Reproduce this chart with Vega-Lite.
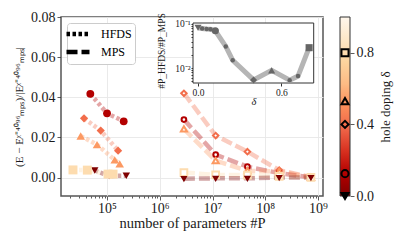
{
  "$schema": "https://vega.github.io/schema/vega-lite/v6.json",
  "padding": {"left": 12, "top": 9, "right": 2, "bottom": 2},
  "background": "white",
  "bounds": "flush",
  "spacing": 17,
  "config": {
    "font": "Liberation Serif",
    "view": {"stroke": null},
    "axis": {
      "labelFont": "Liberation Serif", "titleFont": "Liberation Serif",
      "labelFontSize": 14, "titleFontSize": 14.5, "titleFontWeight": "normal",
      "labelColor": "#1a1a1a", "titleColor": "#1a1a1a", "tickColor": "#333",
      "gridColor": "#e8e8e8", "gridWidth": 0.9, "domain": false
    },
    "legend": {"labelFont": "Liberation Serif"}
  },
  "datasets": {
    "main": [
      {"method": "HFDS", "delta": 0, "P": 58500, "err": 0.0035},
      {"method": "HFDS", "delta": 0, "P": 110000, "err": 0.0008},
      {"method": "HFDS", "delta": 0, "P": 232000, "err": 0.0009},
      {"method": "HFDS", "delta": 0.125, "P": 48200, "err": 0.0417},
      {"method": "HFDS", "delta": 0.125, "P": 100000, "err": 0.032},
      {"method": "HFDS", "delta": 0.125, "P": 207000, "err": 0.028},
      {"method": "HFDS", "delta": 0.4, "P": 36600, "err": 0.0295},
      {"method": "HFDS", "delta": 0.4, "P": 75900, "err": 0.0234},
      {"method": "HFDS", "delta": 0.4, "P": 162000, "err": 0.0134},
      {"method": "HFDS", "delta": 0.53, "P": 31700, "err": 0.0207},
      {"method": "HFDS", "delta": 0.53, "P": 64600, "err": 0.0164},
      {"method": "HFDS", "delta": 0.53, "P": 140000, "err": 0.0088},
      {"method": "HFDS", "delta": 0.53, "P": 174000, "err": 0.0068},
      {"method": "HFDS", "delta": 0.8, "P": 22600, "err": 0.0038},
      {"method": "HFDS", "delta": 0.8, "P": 42300, "err": 0.0037},
      {"method": "HFDS", "delta": 0.8, "P": 104500, "err": 0.0017},
      {"method": "HFDS", "delta": 0.8, "P": 130000, "err": 0.0017},
      {"method": "MPS", "delta": 0.4, "P": 2870000, "err": 0.042},
      {"method": "MPS", "delta": 0.4, "P": 11480000, "err": 0.0209},
      {"method": "MPS", "delta": 0.4, "P": 45900000, "err": 0.0129},
      {"method": "MPS", "delta": 0.4, "P": 183700000, "err": 0.0037},
      {"method": "MPS", "delta": 0.4, "P": 735000000, "err": 0.0002},
      {"method": "MPS", "delta": 0.125, "P": 2870000, "err": 0.0289},
      {"method": "MPS", "delta": 0.125, "P": 11480000, "err": 0.0114},
      {"method": "MPS", "delta": 0.125, "P": 45900000, "err": 0.0054},
      {"method": "MPS", "delta": 0.125, "P": 183700000, "err": 0.0022},
      {"method": "MPS", "delta": 0.125, "P": 735000000, "err": 0.0001},
      {"method": "MPS", "delta": 0.53, "P": 2870000, "err": 0.0242},
      {"method": "MPS", "delta": 0.53, "P": 11480000, "err": 0.0084},
      {"method": "MPS", "delta": 0.53, "P": 45900000, "err": 0.0034},
      {"method": "MPS", "delta": 0.53, "P": 183700000, "err": 0.003},
      {"method": "MPS", "delta": 0.53, "P": 735000000, "err": 0.0001},
      {"method": "MPS", "delta": 0.8, "P": 2870000, "err": 0.0025},
      {"method": "MPS", "delta": 0.8, "P": 11480000, "err": 0.0013},
      {"method": "MPS", "delta": 0.8, "P": 45900000, "err": 0.0012},
      {"method": "MPS", "delta": 0.8, "P": 183700000, "err": 0.0006},
      {"method": "MPS", "delta": 0.8, "P": 735000000, "err": 0.0001},
      {"method": "MPS", "delta": 0, "P": 2870000, "err": -0.0006},
      {"method": "MPS", "delta": 0, "P": 11480000, "err": -0.0004},
      {"method": "MPS", "delta": 0, "P": 45900000, "err": -0.0004},
      {"method": "MPS", "delta": 0, "P": 183700000, "err": 0.0},
      {"method": "MPS", "delta": 0, "P": 735000000, "err": 0.0}
    ],
    "inset": [
      {"delta": 0, "ratio": 0.082},
      {"delta": 0.03, "ratio": 0.079},
      {"delta": 0.0625, "ratio": 0.077},
      {"delta": 0.09, "ratio": 0.076},
      {"delta": 0.125, "ratio": 0.07},
      {"delta": 0.2, "ratio": 0.031},
      {"delta": 0.25, "ratio": 0.015},
      {"delta": 0.4, "ratio": 0.0054},
      {"delta": 0.53, "ratio": 0.0089},
      {"delta": 0.66, "ratio": 0.0053},
      {"delta": 0.72, "ratio": 0.0066},
      {"delta": 0.8, "ratio": 0.029}
    ],
    "insetbox": [{"x0": -0.036, "x1": 0.833, "y0": 0.0046, "y1": 0.105}],
    "cbar": [{"lo": 0, "hi": 1}],
    "cbmarks": [{"delta": 0}, {"delta": 0.125}, {"delta": 0.4}, {"delta": 0.53}, {"delta": 0.8}]
  },
  "hconcat": [
    {
      "width": 262,
      "height": 179,
      "view": {"stroke": "#555", "strokeWidth": 1.5},
      "resolve": {
        "scale": {"x": "independent", "y": "independent"},
        "axis": {"x": "independent", "y": "independent"}
      },
      "layer": [
        {
          "data": {"name": "main"},
          "resolve": {"scale": {"size": "independent"}},
          "layer": [
            {
              "mark": {"type": "line", "strokeWidth": 4.5, "opacity": 0.35},
              "encoding": {
                "x": {
                  "field": "P", "type": "quantitative",
                  "scale": {"type": "log", "domain": [13400, 1245000000], "nice": false},
                  "title": "number of parameters #P",
                  "axis": {
                    "orient": "bottom",
                    "values": [20000, 30000, 40000, 50000, 60000, 70000, 80000, 90000,
                      100000, 200000, 300000, 400000, 500000, 600000, 700000, 800000, 900000,
                      1000000, 2000000, 3000000, 4000000, 5000000, 6000000, 7000000, 8000000, 9000000,
                      10000000, 20000000, 30000000, 40000000, 50000000, 60000000, 70000000, 80000000, 90000000,
                      100000000, 200000000, 300000000, 400000000, 500000000, 600000000, 700000000, 800000000, 900000000,
                      1000000000],
                    "labelExpr": "abs(log(datum.value)/LN10 - round(log(datum.value)/LN10)) < 0.001 ? '10' + ['⁰','¹','²','³','⁴','⁵','⁶','⁷','⁸','⁹'][round(log(datum.value)/LN10)] : ''",
                    "labelOverlap": false,
                    "labelFlush": false,
                    "tickSize": {"condition": {"test": "abs(log(datum.value)/LN10 - round(log(datum.value)/LN10)) < 0.001", "value": 4}, "value": 2},
                    "gridOpacity": {"condition": {"test": "abs(log(datum.value)/LN10 - round(log(datum.value)/LN10)) < 0.001", "value": 1}, "value": 0},
                    "tickWidth": 0.8,
                    "labelPadding": 1,
                    "titlePadding": 1
                  }
                },
                "y": {
                  "field": "err", "type": "quantitative",
                  "scale": {"domain": [-0.0092, 0.08], "nice": false, "zero": false},
                  "title": "(E − Eᵡ⁼⁴⁰⁹⁶ₘₚₛ)/|Eᵡ⁼⁴⁰⁹⁶ₘₚₛ|",
                  "axis": {"orient": "left", "values": [0, 0.02, 0.04, 0.06, 0.08], "format": ".2f", "tickSize": 4, "tickWidth": 0.8, "labelPadding": 2, "titlePadding": 6, "titleFontSize": 11}
                },
                "color": {
                  "field": "delta", "type": "quantitative",
                  "scale": {"domain": [0, 0.125, 0.25, 0.375, 0.5, 0.625, 0.75, 0.875, 1],
                    "range": ["#7f0000", "#b30000", "#d7301f", "#ef6548", "#fc8d59", "#fdbb84", "#fdd49e", "#fee8c8", "#fff7ec"]},
                  "legend": null
                },
                "detail": {"field": "delta"},
                "strokeDash": {
                  "field": "method", "type": "nominal",
                  "scale": {"domain": ["HFDS", "MPS"], "range": [[3.5, 2.5], [11, 4]]},
                  "legend": {
                    "title": null, "orient": "top-left", "offset": 6,
                    "symbolType": "M-2,0H2", "symbolStrokeColor": "black", "symbolStrokeWidth": 4.5,
                    "symbolSize": 132, "symbolOpacity": 1, "labelFontSize": 12, "labelOffset": 15,
                    "strokeColor": "#cccccc", "fillColor": "white", "cornerRadius": 3, "padding": 3,
                    "rowPadding": 0
                  }
                }
              }
            },
            {
              "transform": [{"filter": "datum.method == 'HFDS'"}],
              "mark": {"type": "point", "filled": true, "opacity": 1},
              "encoding": {
                "x": {"field": "P", "type": "quantitative"},
                "y": {"field": "err", "type": "quantitative"},
                "color": {"field": "delta", "type": "quantitative", "legend": null},
                "shape": {
                  "field": "delta", "type": "nominal",
                  "scale": {"domain": [0, 0.125, 0.4, 0.53, 0.8], "range": ["triangle-down", "circle", "diamond", "triangle-up", "square"]},
                  "legend": null
                },
                "size": {
                  "field": "delta", "type": "ordinal",
                  "scale": {"domain": [0, 0.125, 0.4, 0.53, 0.8], "range": [55, 80, 100, 95, 65]},
                  "legend": null
                }
              }
            },
            {
              "transform": [{"filter": "datum.method == 'MPS'"}],
              "mark": {"type": "point", "filled": false, "fill": "white", "strokeWidth": 2, "opacity": 1},
              "encoding": {
                "x": {"field": "P", "type": "quantitative"},
                "y": {"field": "err", "type": "quantitative"},
                "color": {"field": "delta", "type": "quantitative", "legend": null},
                "shape": {"field": "delta", "type": "nominal", "legend": null},
                "size": {
                  "field": "delta", "type": "ordinal",
                  "scale": {"domain": [0, 0.125, 0.4, 0.53, 0.8], "range": [14, 45, 80, 50, 40]},
                  "legend": null
                }
              }
            }
          ]
        },
        {
          "layer": [
            {
              "data": {"name": "insetbox"},
              "mark": {"type": "rect", "fill": "white", "stroke": "#333", "strokeWidth": 1},
              "encoding": {
                "x": {
                  "field": "x0", "type": "quantitative",
                  "scale": {"domain": [-0.036, 0.833], "range": [132, 252.7], "nice": false, "zero": false},
                  "title": "δ",
                  "axis": {"orient": "bottom", "offset": -113, "values": [0, 0.6], "format": ".1f", "grid": false,
                    "tickSize": 3, "labelFontSize": 9.5, "titleFontSize": 10.5, "titleFontStyle": "italic",
                    "labelPadding": 1, "titlePadding": 0}
                },
                "x2": {"field": "x1"},
                "y": {
                  "field": "y0", "type": "quantitative",
                  "scale": {"type": "log", "domain": [0.0046, 0.105], "range": [66, 6], "nice": false},
                  "title": null,
                  "axis": {"orient": "left", "offset": -132,
                    "values": [0.005, 0.006, 0.007, 0.008, 0.009, 0.01, 0.02, 0.03, 0.04, 0.05, 0.06, 0.07, 0.08, 0.09, 0.1],
                    "labelExpr": "datum.value == 0.1 ? '10⁻¹' : datum.value == 0.01 ? '10⁻²' : ''",
                    "labelOverlap": false, "grid": false,
                    "tickSize": 2,
                    "labelFontSize": 9.5, "labelPadding": 1}
                },
                "y2": {"field": "y1"}
              }
            },
            {
              "data": {"name": "insetbox"},
              "mark": {"type": "text", "angle": 270, "font": "Liberation Serif", "fontSize": 9.5, "color": "#1a1a1a", "align": "center", "baseline": "middle"},
              "encoding": {
                "x": {"datum": -0.259, "type": "quantitative"},
                "y": {"datum": 0.0244, "type": "quantitative"},
                "text": {"value": "#P_HFDS/#P_MPS"}
              }
            },
            {
              "data": {"name": "inset"},
              "mark": {"type": "line", "color": "#b5b5b5", "strokeWidth": 5},
              "encoding": {
                "x": {"field": "delta", "type": "quantitative"},
                "y": {"field": "ratio", "type": "quantitative"}
              }
            },
            {
              "data": {"name": "inset"},
              "transform": [{"filter": "indexof([0, 0.125, 0.4, 0.53, 0.8], datum.delta) < 0"}],
              "mark": {"type": "circle", "color": "#666", "size": 20, "opacity": 1},
              "encoding": {
                "x": {"field": "delta", "type": "quantitative"},
                "y": {"field": "ratio", "type": "quantitative"}
              }
            },
            {
              "data": {"name": "inset"},
              "transform": [{"filter": "indexof([0, 0.125, 0.4, 0.53, 0.8], datum.delta) >= 0"}],
              "mark": {"type": "point", "filled": true, "color": "#666", "size": 50, "opacity": 1},
              "encoding": {
                "x": {"field": "delta", "type": "quantitative"},
                "y": {"field": "ratio", "type": "quantitative"},
                "shape": {"field": "delta", "type": "nominal", "legend": null}
              }
            }
          ]
        }
      ]
    },
    {
      "width": 10,
      "height": 179,
      "view": {"stroke": null},
      "layer": [
        {
          "data": {"name": "cbar"},
          "mark": {
            "type": "rect", "stroke": "#333", "strokeWidth": 1,
            "fill": {"gradient": "linear", "x1": 0, "y1": 0, "x2": 0, "y2": 1,
              "stops": [
                {"offset": 0, "color": "#fff7ec"}, {"offset": 0.125, "color": "#fee8c8"},
                {"offset": 0.25, "color": "#fdd49e"}, {"offset": 0.375, "color": "#fdbb84"},
                {"offset": 0.5, "color": "#fc8d59"}, {"offset": 0.625, "color": "#ef6548"},
                {"offset": 0.75, "color": "#d7301f"}, {"offset": 0.875, "color": "#b30000"},
                {"offset": 1, "color": "#7f0000"}]}
          },
          "encoding": {
            "y": {
              "field": "lo", "type": "quantitative",
              "scale": {"domain": [0, 1], "nice": false},
              "title": "hole doping δ",
              "axis": {"orient": "right", "values": [0, 0.2, 0.4, 0.6, 0.8, 1], "format": ".1f", "grid": false,
                "labelOverlap": false, "labelFlush": false,
                "tickSize": 4, "tickWidth": 0.8, "labelPadding": 2, "titlePadding": 6,
                "titleAngle": -90, "titleBaseline": "top", "titleFontSize": 13}
            },
            "y2": {"field": "hi"}
          }
        },
        {
          "data": {"name": "cbmarks"},
          "mark": {"type": "point", "filled": false, "stroke": "black", "strokeWidth": 2, "opacity": 1, "size": 50},
          "encoding": {
            "y": {"field": "delta", "type": "quantitative"},
            "fill": {"condition": {"test": "datum.delta == 0", "value": "black"}, "value": "transparent"},
            "shape": {
              "field": "delta", "type": "nominal",
              "scale": {"domain": [0, 0.125, 0.4, 0.53, 0.8], "range": ["triangle-down", "circle", "diamond", "triangle-up", "square"]},
              "legend": null
            }
          }
        }
      ]
    }
  ]
}
